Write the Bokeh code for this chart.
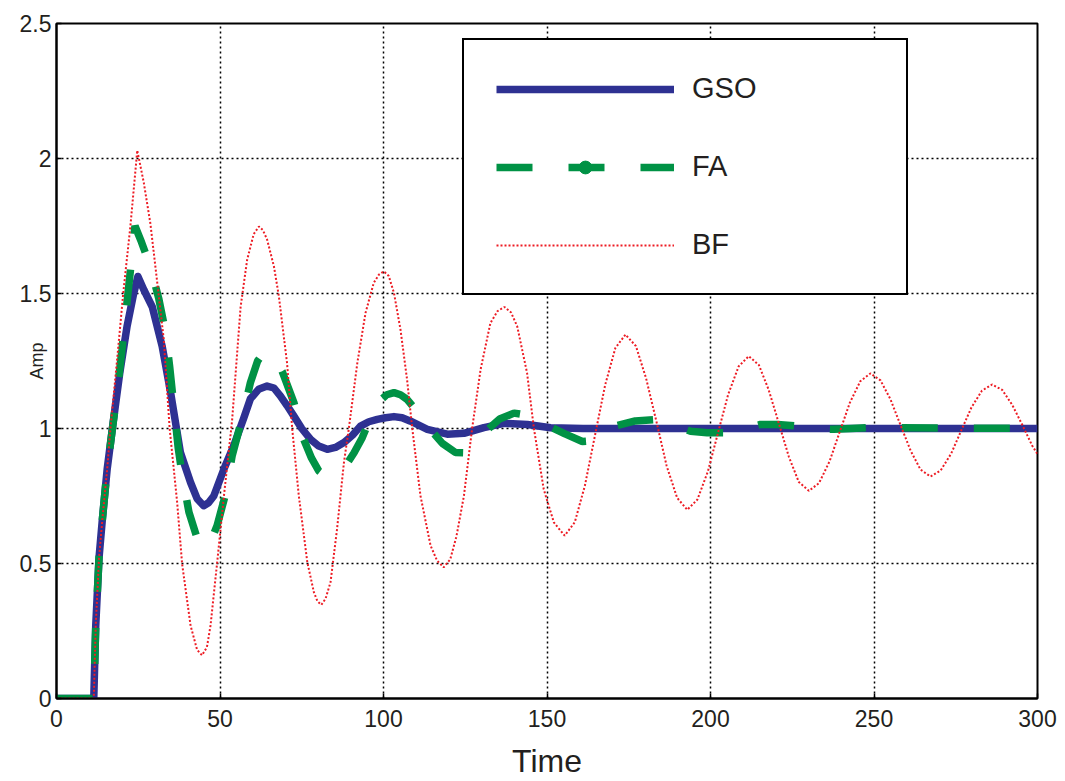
import math
from bokeh.plotting import figure
from bokeh.models import FixedTicker, Legend, LegendItem
from bokeh.embed import file_html
from bokeh.resources import INLINE

# ---------------- data ----------------
x_ticks = [0, 50, 100, 150, 200, 250, 300]
y_ticks = [0, 0.5, 1, 1.5, 2, 2.5]
y_tick_labels = ["0", "0.5", "1", "1.5", "2", "2.5"]

gso_t = [0, 11.4, 12.0, 13.0, 14.0, 15.5, 17.3, 19.4, 21.6, 23.6,
         24.9, 26.7, 29.3, 32.3, 34.9, 37.9, 41.0, 43.0, 45.0, 46.5,
         48.1, 51.2, 54.2, 57.3, 59.3, 61.8, 64.4, 66.5, 68.5, 70.5,
         72.6, 75.0, 77.7, 80.2, 82.8, 85.3, 87.9, 90.5, 93.0, 95.5,
         98.1, 100.6, 103.2, 105.7, 108.3, 113.4, 119.5, 124.6, 130.7, 136.8,
         144.0, 151.1, 161.0, 300.0]
gso_a = [0, 0, 0.27, 0.52, 0.66, 0.85, 1.02, 1.21, 1.38, 1.5,
         1.563, 1.514, 1.45, 1.305, 1.133, 0.911, 0.8, 0.74, 0.714, 0.725,
         0.75, 0.85, 0.936, 1.04, 1.11, 1.145, 1.157, 1.15, 1.12, 1.085,
         1.046, 1.0, 0.96, 0.935, 0.923, 0.93, 0.948, 0.975, 1.009, 1.025,
         1.034, 1.04, 1.044, 1.04, 1.027, 0.997, 0.979, 0.982, 1.003, 1.019,
         1.015, 1.003, 1.0, 1.0]

fa_t = [0, 11.4, 12.0, 13.0, 14.0, 15.5, 17.0, 18.5, 20.0, 21.5,
        23.0, 24.0, 26.0, 28.7, 31.3, 33.3, 34.6, 35.9, 37.2, 38.4,
        40.5, 43.5, 45.3, 47.3, 49.1, 51.7, 53.7, 56.8, 59.3, 61.5,
        63.5, 66.0, 69.0, 72.6, 75.6, 78.0, 80.2, 82.5, 85.0, 88.4,
        91.0, 93.5, 96.0, 98.6, 101.0, 103.2, 105.2, 107.2, 110.5, 114.4,
        118.0, 122.0, 125.0, 128.0, 131.2, 135.5, 139.9, 143.5, 147.0, 150.6,
        155.5, 160.8, 164.0, 167.5, 171.5, 177.0, 183.2, 188.5, 193.9, 199.0,
        204.6, 210.0, 215.3, 220.5, 226.5, 232.0, 237.7, 243.0, 248.4, 300.0]
fa_a = [0, 0, 0.27, 0.52, 0.66, 0.85, 0.99, 1.13, 1.29, 1.46,
        1.63, 1.75, 1.69, 1.60, 1.48, 1.36, 1.23, 1.08, 0.93, 0.83,
        0.69, 0.575, 0.555, 0.585, 0.64, 0.757, 0.898, 1.04, 1.17, 1.25,
        1.285, 1.27, 1.212, 1.096, 0.96, 0.89, 0.843, 0.822, 0.83, 0.862,
        0.91, 0.966, 1.04, 1.10, 1.125, 1.133, 1.125, 1.108, 1.06, 0.995,
        0.945, 0.911, 0.91, 0.945, 0.989, 1.035, 1.057, 1.05, 1.03, 1.009,
        0.98, 0.952, 0.955, 0.98, 1.011, 1.028, 1.033, 1.015, 0.99, 0.984,
        0.984, 0.998, 1.015, 1.015, 1.009, 1.0, 0.997, 1.0, 1.003, 1.0]

bf_t = [0, 11.4, 12.0, 13.0, 14.0, 15.5, 16.5, 18.5, 20.4, 22.6,
        24.7, 26.7, 28.7, 31.2, 32.8, 34.6, 36.9, 38.4, 41.0, 43.0,
        44.5, 46.0, 47.1, 49.1, 51.2, 53.7, 56.3, 58.3, 60.3, 61.9,
        63.1, 64.4, 66.5, 68.0, 70.5, 72.1, 74.1, 76.7, 78.7, 79.8,
        81.0, 82.3, 83.8, 85.8, 87.9, 89.4, 92.0, 94.5, 97.0, 98.6,
        100.1, 101.6, 103.2, 105.2, 107.2, 108.8, 111.3, 114.4, 116.4, 118.4,
        120.4, 122.3, 124.6, 127.1, 129.7, 132.7, 134.9, 137.0, 139.0, 140.9,
        143.9, 146.0, 149.0, 152.1, 155.4, 158.5, 161.6, 164.7, 167.8, 170.9,
        174.0, 177.2, 180.3, 183.5, 186.6, 189.8, 192.9, 196.0, 199.2, 202.3,
        205.4, 208.6, 211.7, 214.8, 217.8, 220.9, 224.0, 227.0, 230.1, 233.2,
        236.4, 239.5, 242.6, 245.8, 248.9, 252.0, 255.0, 258.1, 261.2, 264.2,
        267.3, 270.4, 273.6, 276.7, 279.8, 283.0, 286.1, 289.2, 292.3, 295.4,
        298.4, 300.0]
bf_a = [0, 0, 0.27, 0.52, 0.66, 0.85, 1.0, 1.25, 1.5, 1.75,
        2.03, 1.91, 1.76, 1.5, 1.33, 1.0, 0.726, 0.5, 0.27, 0.18,
        0.16, 0.19, 0.27, 0.5, 0.75, 1.03, 1.45, 1.625, 1.72, 1.748,
        1.735, 1.70, 1.6, 1.49, 1.243, 0.997, 0.751, 0.505, 0.394, 0.36,
        0.347, 0.37, 0.431, 0.628, 0.874, 1.0, 1.243, 1.428, 1.539, 1.57,
        1.582, 1.565, 1.502, 1.366, 1.182, 1.0, 0.751, 0.566, 0.51, 0.486,
        0.515, 0.6, 0.751, 1.0, 1.219, 1.391, 1.435, 1.45, 1.43, 1.378,
        1.206, 1.0, 0.775, 0.652, 0.603, 0.653, 0.789, 0.976, 1.162, 1.298,
        1.348, 1.305, 1.186, 1.024, 0.861, 0.743, 0.699, 0.737, 0.841, 0.984,
        1.126, 1.23, 1.268, 1.235, 1.143, 1.019, 0.894, 0.802, 0.769, 0.798,
        0.878, 0.987, 1.095, 1.175, 1.204, 1.178, 1.109, 1.013, 0.918, 0.848,
        0.822, 0.845, 0.907, 0.993, 1.078, 1.140, 1.163, 1.143, 1.087, 1.012,
        0.936, 0.905]

# ---------------- figure ----------------
FONT = "Liberation Sans"
INK = "#231F20"
BLUE = "#2E3192"
GREEN = "#009245"
RED = "#ED1C24"

p = figure(width=1057, height=781, x_range=(0, 300), y_range=(0, 2.5),
           output_backend="svg", toolbar_location=None,
           min_border_left=56, min_border_right=20, min_border_top=23,
           min_border_bottom=81)
p.background_fill_color = "white"
p.border_fill_color = "white"
p.outline_line_color = "black"
p.outline_line_width = 2
p.outline_line_alpha = 1

xt = FixedTicker(ticks=x_ticks)
yt = FixedTicker(ticks=y_ticks)
p.xaxis.ticker = xt
p.yaxis.ticker = yt
p.xgrid.ticker = xt
p.ygrid.ticker = yt
p.yaxis.major_label_overrides = {t: s for t, s in zip(y_ticks, y_tick_labels)}

for ax in (p.xaxis, p.yaxis):
    ax.axis_line_color = "black"
    ax.axis_line_width = 2
    ax.major_tick_in = 5
    ax.major_tick_out = 0
    ax.major_tick_line_color = "black"
    ax.major_tick_line_width = 1.5
    ax.minor_tick_line_color = None
    ax.major_label_text_font = FONT
    ax.major_label_text_font_size = "23px"
    ax.major_label_text_color = INK
p.xaxis.major_label_standoff = 11
p.yaxis.major_label_standoff = 5

p.xaxis.axis_label = "Time"
p.xaxis.axis_label_text_font = FONT
p.xaxis.axis_label_text_font_size = "32px"
p.xaxis.axis_label_text_font_style = "normal"
p.xaxis.axis_label_text_color = INK
p.xaxis.axis_label_standoff = 13

p.yaxis.axis_label = "Amp"
p.yaxis.axis_label_text_font = FONT
p.yaxis.axis_label_text_font_size = "18px"
p.yaxis.axis_label_text_font_style = "normal"
p.yaxis.axis_label_text_color = INK
p.yaxis.axis_label_standoff = -30

for g in (p.xgrid, p.ygrid):
    g.grid_line_color = "black"
    g.grid_line_width = 1.5
    g.grid_line_dash = "2 3"
    g.grid_line_alpha = 1

r_gso = p.line(gso_t, gso_a, line_color=BLUE, line_width=7.5, line_join="round")
r_fa = p.line(fa_t, fa_a, line_color=GREEN, line_width=7.5, line_dash="36 36")
# point marker shown only in the legend sample (as in the original '--.' style)
r_fa_dot = p.scatter(x=fa_t[:1], y=fa_a[:1], marker="circle", size=9,
                     fill_color=GREEN, line_color=GREEN, visible=False)
r_bf = p.line(bf_t, bf_a, line_color=RED, line_width=2, line_dash="2 2")

legend = Legend(items=[LegendItem(label="GSO", renderers=[r_gso]),
                       LegendItem(label="FA", renderers=[r_fa, r_fa_dot]),
                       LegendItem(label="BF", renderers=[r_bf])],
                location=(406, 403))
legend.border_line_color = "black"
legend.border_line_width = 2
legend.border_line_alpha = 1
legend.background_fill_color = "white"
legend.background_fill_alpha = 1
legend.label_text_font = FONT
legend.label_text_font_size = "29px"
legend.label_text_color = INK
legend.glyph_width = 178
legend.glyph_height = 32
legend.label_height = 32
legend.label_width = 182
legend.label_standoff = 18
legend.spacing = 45
legend.padding = 32
legend.margin = 0
p.add_layout(legend, "center")

open("out.html", "w").write(file_html(p, INLINE))
